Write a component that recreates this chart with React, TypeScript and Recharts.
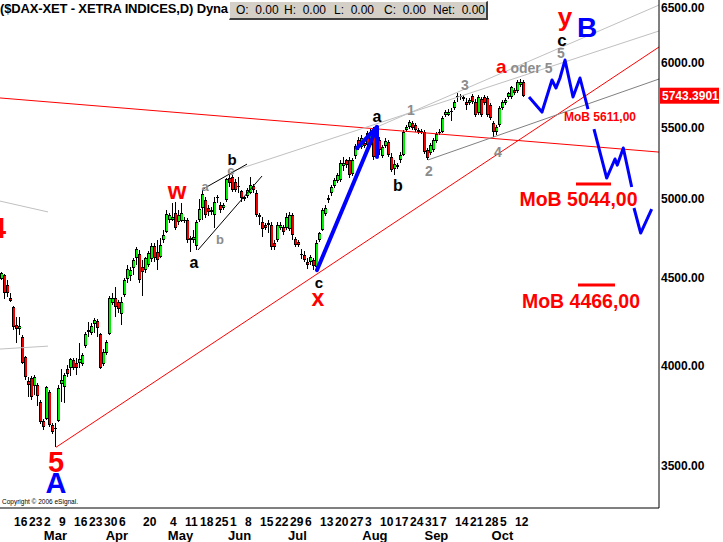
import {
  Bar,
  ComposedChart,
  Line,
  ReferenceDot,
  ReferenceLine,
  XAxis,
  YAxis,
} from 'recharts'

// daily candles, first one sits 4 sessions before Feb 16
const firstIndex = -4

const opens = [
  4494, 4518, 4458, 4383, 4330, 4225, 4203, 4159, 4048, 3921,
  3937, 3895, 3900, 3812, 3717, 3727, 3864, 3697, 3678, 3717,
  3905, 3890, 3985, 3991, 4031, 4015, 4015, 4009, 4109, 4187,
  4182, 4231, 4248, 4176, 4009, 4070, 4176, 4354, 4383, 4359,
  4289, 4398, 4494, 4512, 4561, 4621, 4646, 4567, 4549, 4580,
  4615, 4696, 4659, 4627, 4735, 4784, 4863, 4863, 4909, 4850,
  4857, 4863, 4863, 4748, 4735, 4696, 4863, 4943, 4993, 4943,
  4916, 4896, 5007, 4963, 4943, 4993, 5145, 5152, 5117, 5082,
  5055, 5014, 5021, 5041, 5089, 5041, 4896, 4850, 4830, 4843,
  4830, 4715, 4735, 4810, 4817, 4810, 4804, 4896, 4741, 4722,
  4646, 4639, 4595, 4595, 4608, 4567, 4735, 4797, 4902, 4993,
  5041, 5089, 5124, 5131, 5226, 5269, 5269, 5173, 5298, 5411,
  5363, 5389, 5463, 5374, 5448, 5418, 5411, 5298, 5370, 5396,
  5290, 5205, 5233, 5269, 5305, 5485, 5507, 5537, 5522, 5485,
  5478, 5470, 5341, 5319, 5341, 5404, 5463, 5470, 5595, 5595,
  5618, 5648, 5733, 5741, 5733, 5694, 5687, 5741, 5694, 5610,
  5718, 5733, 5726, 5671, 5537, 5470, 5522, 5648, 5687, 5733,
  5733, 5786, 5778, 5826, 5849,
]

const highs = [
  4536, 4524, 4488, 4409, 4336, 4271, 4271, 4170, 4053, 3943,
  3948, 3953, 3911, 3822, 3727, 3895, 3874, 3707, 3707, 3900,
  3985, 3965, 4004, 4042, 4042, 4042, 4125, 4070, 4187, 4242,
  4237, 4266, 4260, 4182, 4092, 4142, 4392, 4409, 4446, 4371,
  4389, 4500, 4580, 4567, 4621, 4690, 4671, 4608, 4627, 4665,
  4715, 4715, 4735, 4748, 4797, 4929, 4912, 4976, 4980, 4929,
  4976, 4883, 4876, 4761, 4797, 4863, 5000, 5062, 5014, 4963,
  4950, 5014, 5028, 4980, 4976, 5145, 5177, 5166, 5138, 5152,
  5062, 5021, 5076, 5152, 5103, 5062, 4909, 4883, 4842, 4863,
  4850, 4735, 4850, 4850, 4830, 4909, 4916, 4909, 4754, 4735,
  4677, 4665, 4621, 4639, 4621, 4735, 4784, 4943, 4963, 5028,
  5096, 5145, 5177, 5269, 5290, 5276, 5290, 5283, 5383, 5433,
  5448, 5411, 5478, 5493, 5507, 5448, 5433, 5374, 5426, 5411,
  5319, 5269, 5246, 5327, 5485, 5522, 5560, 5552, 5537, 5500,
  5493, 5485, 5356, 5389, 5426, 5470, 5493, 5587, 5633, 5640,
  5648, 5710, 5765, 5757, 5749, 5726, 5726, 5757, 5718, 5749,
  5733, 5749, 5741, 5687, 5552, 5522, 5663, 5710, 5726, 5771,
  5818, 5802, 5865, 5873, 5865,
]

const lows = [
  4488, 4377, 4389, 4359, 4197, 4125, 4170, 4009, 3927, 3838,
  3822, 3848, 3793, 3702, 3673, 3722, 3688, 3653, 3588, 3712,
  3812, 3807, 3943, 3948, 3980, 3953, 3991, 3998, 4097, 4159,
  4170, 4182, 4159, 3985, 3998, 4059, 4170, 4341, 4271, 4295,
  4225, 4389, 4470, 4482, 4518, 4580, 4470, 4392, 4530, 4567,
  4595, 4595, 4549, 4621, 4715, 4780, 4842, 4857, 4797, 4830,
  4850, 4842, 4715, 4659, 4715, 4671, 4850, 4863, 4876, 4889,
  4896, 4810, 4976, 4909, 4929, 4980, 5083, 5048, 5048, 5041,
  4980, 4987, 5007, 5035, 5041, 4883, 4830, 4754, 4797, 4780,
  4671, 4671, 4722, 4797, 4767, 4797, 4791, 4735, 4690, 4690,
  4615, 4595, 4555, 4580, 4549, 4549, 4722, 4791, 4889, 4976,
  5021, 5076, 5110, 5117, 5191, 5212, 5145, 5159, 5276, 5341,
  5348, 5356, 5363, 5363, 5269, 5370, 5305, 5283, 5356, 5290,
  5184, 5166, 5205, 5248, 5298, 5470, 5493, 5485, 5470, 5455,
  5455, 5312, 5269, 5305, 5327, 5389, 5448, 5463, 5580, 5587,
  5552, 5633, 5694, 5710, 5702, 5633, 5671, 5679, 5580, 5595,
  5580, 5671, 5580, 5560, 5433, 5448, 5507, 5633, 5671, 5718,
  5718, 5749, 5765, 5808, 5735,
]

const closes = [
  4530, 4409, 4409, 4365, 4214, 4203, 4220, 4015, 3943, 3900,
  3838, 3943, 3843, 3712, 3688, 3890, 3697, 3663, 3683, 3885,
  3925, 3953, 3958, 4037, 3991, 3991, 4037, 4059, 4176, 4197,
  4220, 4254, 4208, 3991, 4075, 4131, 4383, 4383, 4330, 4318,
  4359, 4488, 4555, 4549, 4608, 4677, 4488, 4536, 4621, 4652,
  4696, 4621, 4608, 4703, 4767, 4902, 4896, 4883, 4810, 4896,
  4909, 4857, 4735, 4735, 4754, 4850, 4936, 5035, 4896, 4916,
  4929, 4980, 5014, 4929, 4963, 5138, 5110, 5062, 5062, 5089,
  5007, 5000, 5062, 5096, 5062, 4896, 4883, 4804, 4810, 4830,
  4690, 4690, 4830, 4830, 4784, 4883, 4896, 4767, 4703, 4703,
  4639, 4608, 4580, 4627, 4574, 4715, 4780, 4929, 4943, 5007,
  5082, 5131, 5166, 5246, 5246, 5233, 5166, 5269, 5370, 5363,
  5426, 5370, 5374, 5470, 5290, 5389, 5341, 5363, 5404, 5305,
  5198, 5240, 5219, 5305, 5470, 5507, 5545, 5500, 5485, 5470,
  5470, 5327, 5283, 5374, 5411, 5455, 5470, 5572, 5618, 5618,
  5625, 5694, 5741, 5733, 5718, 5671, 5710, 5694, 5595, 5733,
  5595, 5687, 5595, 5575, 5470, 5507, 5648, 5694, 5710, 5765,
  5808, 5765, 5849, 5849, 5743.39,
]

const lastPrice = 5743.3901

// session index of each weekly Monday label (Feb 16 = 0)
const weekTicks = [
  0, 5, 10, 15, 20, 25, 30, 35, 43, 52, 57, 62, 67, 72, 77, 82, 87,
  92, 97, 102, 107, 112, 117, 122, 127, 132, 137, 142, 147, 152, 157, 162, 167,
]
const weekLabels = [
  '16', '23', '2', '9', '16', '23', '30', '6', '20', '4', '11', '18', '25', '1', '8', '15', '22',
  '29', '6', '13', '20', '27', '3', '10', '17', '24', '31', '7', '14', '21', '28', '5', '12',
]
const monthTicks = [13.8, 34.3, 55.5, 75.2, 94.5, 120.3, 140.8, 162.8]
const monthLabels = ['Mar', 'Apr', 'May', 'Jun', 'Jul', 'Aug', 'Sep', 'Oct']
const priceTicks = [3500, 4000, 4500, 5000, 5500, 6000, 6500]

// trend lines: [index1, price1, index2, price2]
const redLines = [
  [14, 3588, 215, 6130],
  [-4.67, 5726, 215, 5326],
]
const lightGrayLines = [
  [72, 5186, 215, 6263],
  [121, 5508, 215, 6484],
  [-4.67, 4988, 11.33, 4916],
  [-4.67, 4092, 11.33, 4108],
]
const darkGrayLines = [[138, 5270, 215, 5873]]
const blackLines = [
  [61.33, 4672, 82.67, 5158],
  [63, 5069, 77.67, 5241],
]
// MoB target bars: [from, to, price]
const mobBars = [
  [187.33, 199, 5103],
  [188, 200.33, 4458],
]

// blue wave paths: [index, price]
const waveCA = [[101, 4548], [121, 5508]]
const waveHead = [[114.33, 5355], [121, 5508], [121, 5291]]
const projection1 = [
  [171.67, 5733], [176, 5619], [179.33, 5865], [180.67, 5803], [182, 5881],
  [183.67, 6024], [186.33, 5733], [188.67, 5881], [191.33, 5642],
]
const projection2 = [
  [193.33, 5493], [197.56, 5144], [200.33, 5277], [201.1, 5234], [203.1, 5355], [205.9, 5083],
]
const projection3 = [[206.67, 4942], [208.89, 4779], [212.56, 4935]]

const RED = '#ff0000'
const BLUE = '#0000ff'
const GRAY = '#8c8c8c'
const BLACK = '#000000'

// wave labels: [index, price, text, colour, font size]
const waveLabels: [number, number, string, string, number][] = [
  [14, 3518, '5', RED, 29],
  [14, 3420, 'A', BLUE, 29],
  [-5.33, 4811, '4', RED, 29],
  [-6, 4697, 'c', BLACK, 15],
  [54.33, 5056, 'w', RED, 24],
  [63.67, 5089, 'a', GRAY, 13],
  [72.33, 5195, 'c', GRAY, 13],
  [72.67, 5276, 'b', BLACK, 15],
  [68.67, 4741, 'b', GRAY, 13],
  [60, 4597, 'a', BLACK, 16],
  [121, 5582, 'a', BLACK, 16],
  [128, 5096, 'b', BLACK, 16],
  [101.67, 4474, 'c', BLACK, 15],
  [101.33, 4381, 'x', RED, 23],
  [132.33, 5634, '1', GRAY, 14],
  [138.33, 5193, '2', GRAY, 14],
  [150.33, 5826, '3', GRAY, 14],
  [161.33, 5326, '4', GRAY, 14],
  [182.33, 6081, '5', GRAY, 14],
  [182.67, 6187, 'c', BLACK, 17],
  [183.67, 6381, 'y', RED, 26],
  [191, 6296, 'B', BLUE, 28],
  [195.33, 5582, 'MoB 5611,00', RED, 12],
  [188.17, 5002, 'MoB 5044,00', RED, 19.5],
  [189, 4364, 'MoB 4466,00', RED, 19.5],
]

const sans = "'Liberation Sans', Arial, sans-serif"
const narrow = "'Liberation Sans Narrow', 'Liberation Sans', Arial, sans-serif"

const candleData = opens.map((open, k) => ({
  i: k + firstIndex,
  open,
  high: highs[k],
  low: lows[k],
  close: closes[k],
  range: [lows[k], highs[k]],
}))

const toPoints = (rows: number[][]) => rows.map(([i, p]) => ({ i, p }))

function Candle(props: any) {
  const { x, y, width, height, payload } = props
  if (x == null || y == null || height == null) return null
  const top = Math.min(y, y + height)
  const bottom = Math.max(y, y + height)
  const span = Math.log(payload.high / payload.low) || 1
  const at = (v: number) => top + ((bottom - top) * Math.log(payload.high / v)) / span
  const bodyTop = at(Math.max(payload.open, payload.close))
  const bodyBottom = at(Math.min(payload.open, payload.close))
  const px = Math.floor(x + width / 2)
  const up = payload.close >= payload.open
  const bodyH = Math.max(1, bodyBottom - bodyTop)
  return (
    <g shapeRendering="crispEdges">
      <line x1={px + 0.5} x2={px + 0.5} y1={top} y2={bottom} stroke={BLACK} strokeWidth={1} />
      <rect x={px - 1} y={bodyTop} width={3} height={bodyH} fill={BLACK} />
      {bodyH > 2 && (
        <rect
          x={px}
          y={bodyTop + 1}
          width={2}
          height={bodyH - 2}
          fill={up ? '#00ee00' : '#ee0000'}
        />
      )}
    </g>
  )
}

function DayTick(props: any) {
  const { x, y, payload } = props
  const k = weekTicks.indexOf(payload.value)
  return (
    <text x={x} y={y + 18} textAnchor="start" fontFamily={narrow} fontWeight="bold" fontSize={12} fill={BLACK}>
      {weekLabels[k]}
    </text>
  )
}

function MonthTick(props: any) {
  const { x, y, payload } = props
  const k = monthTicks.indexOf(payload.value)
  return (
    <text x={x} y={y + 15} textAnchor="middle" fontFamily={narrow} fontWeight="bold" fontSize={13} fill={BLACK}>
      {monthLabels[k]}
    </text>
  )
}

function PriceTick(props: any) {
  const { x, y, payload } = props
  return (
    <text
      x={x}
      y={Math.max(y, 8)}
      textAnchor="start"
      dominantBaseline="central"
      fontFamily={sans}
      fontWeight="bold"
      fontSize={12}
      fill={BLACK}
    >
      {Number(payload.value).toFixed(2)}
    </text>
  )
}

const segment = (r: number[]) => [
  { x: r[0], y: r[1] },
  { x: r[2], y: r[3] },
]

export default function App() {
  return (
    <div style={{ position: 'absolute', left: 0, top: 0, width: 723, height: 542, background: '#fff' }}>
      <ComposedChart
        width={723}
        height={542}
        data={candleData}
        margin={{ top: 0, right: 0, bottom: 0, left: 0 }}
      >
        <XAxis
          dataKey="i"
          type="number"
          domain={[-14 / 3, 215]}
          allowDataOverflow
          ticks={weekTicks}
          interval={0}
          tick={<DayTick />}
          tickLine={false}
          tickSize={0}
          tickMargin={0}
          axisLine={{ stroke: BLACK }}
          height={17}
        />
        <XAxis
          xAxisId="m"
          dataKey="i"
          type="number"
          domain={[-14 / 3, 215]}
          allowDataOverflow
          ticks={monthTicks}
          interval={0}
          tick={<MonthTick />}
          tickLine={false}
          tickSize={0}
          tickMargin={0}
          axisLine={false}
          height={17}
        />
        <YAxis
          orientation="right"
          scale="log"
          domain={[3308, 6528]}
          allowDataOverflow
          ticks={priceTicks}
          interval={0}
          tick={<PriceTick />}
          tickLine={false}
          tickSize={0}
          tickMargin={2}
          axisLine={{ stroke: BLACK }}
          width={64}
        />

        {redLines.map((r, k) => (
          <ReferenceLine key={'r' + k} segment={segment(r)} stroke={RED} strokeWidth={1} ifOverflow="hidden" />
        ))}
        {lightGrayLines.map((r, k) => (
          <ReferenceLine key={'g' + k} segment={segment(r)} stroke="#c0c0c0" strokeWidth={1} ifOverflow="hidden" />
        ))}
        {darkGrayLines.map((r, k) => (
          <ReferenceLine key={'d' + k} segment={segment(r)} stroke="#808080" strokeWidth={1} ifOverflow="hidden" />
        ))}
        {blackLines.map((r, k) => (
          <ReferenceLine key={'b' + k} segment={segment(r)} stroke={BLACK} strokeWidth={1} ifOverflow="hidden" />
        ))}
        {mobBars.map((r, k) => (
          <ReferenceLine
            key={'m' + k}
            segment={[
              { x: r[0], y: r[2] },
              { x: r[1], y: r[2] },
            ]}
            stroke={RED}
            strokeWidth={3}
            ifOverflow="hidden"
          />
        ))}

        <Bar dataKey="range" barSize={3} shape={<Candle />} isAnimationActive={false} />

        {[waveCA, waveHead].map((w, k) => (
          <Line
            key={'w' + k}
            data={toPoints(w)}
            dataKey="p"
            type="linear"
            stroke={BLUE}
            strokeWidth={4}
            strokeLinejoin="round"
            strokeLinecap="round"
            dot={false}
            activeDot={false}
            isAnimationActive={false}
          />
        ))}
        {[projection1, projection2, projection3].map((w, k) => (
          <Line
            key={'p' + k}
            data={toPoints(w)}
            dataKey="p"
            type="linear"
            stroke={BLUE}
            strokeWidth={3}
            strokeLinejoin="round"
            dot={false}
            activeDot={false}
            isAnimationActive={false}
          />
        ))}

        {waveLabels.map(([i, p, text, color, size], k) => (
          <ReferenceDot
            key={'t' + k}
            x={i}
            y={p}
            r={0}
            ifOverflow="visible"
            shape={(s: any) => (
              <text
                x={s.cx}
                y={s.cy}
                textAnchor="middle"
                dominantBaseline="central"
                fontFamily={sans}
                fontWeight="bold"
                fontSize={size}
                fill={color}
              >
                {text}
              </text>
            )}
          />
        ))}
        <ReferenceDot
          x={160.67}
          y={5920}
          r={0}
          ifOverflow="visible"
          shape={(s: any) => (
            <text x={s.cx} y={s.cy} textAnchor="start" fontFamily={sans} fontWeight="bold">
              <tspan fill={RED} fontSize={19}>a</tspan>
              <tspan fill={GRAY} fontSize={14}> oder 5</tspan>
            </text>
          )}
        />
        <ReferenceDot
          x={215}
          y={lastPrice}
          r={0}
          ifOverflow="visible"
          shape={(s: any) => (
            <g>
              <rect x={s.cx + 1} y={s.cy - 8} width={59} height={16} fill={RED} />
              <text
                x={s.cx + 3}
                y={s.cy}
                dominantBaseline="central"
                fontFamily={sans}
                fontWeight="bold"
                fontSize={12}
                fill="#ffffff"
              >
                {lastPrice.toFixed(4)}
              </text>
            </g>
          )}
        />
      </ComposedChart>

      <div
        style={{
          position: 'absolute',
          left: 0,
          top: 1,
          font: `bold 13px ${sans}`,
          letterSpacing: '-0.15px',
          lineHeight: '16px',
          whiteSpace: 'nowrap',
          color: BLACK,
        }}
      >
        ($DAX-XET - XETRA INDICES,D) Dyna
      </div>
      <div
        style={{
          position: 'absolute',
          left: 229,
          top: 1,
          width: 256,
          height: 16,
          background: '#d4d0c8',
          borderTop: '1px solid #ffffff',
          borderLeft: '1px solid #ffffff',
          borderRight: '2px solid #404040',
          borderBottom: '2px solid #404040',
          font: `12px ${sans}`,
          lineHeight: '16px',
          color: BLACK,
        }}
      >
        <span style={{ position: 'absolute', left: 6 }}>O:&nbsp; 0.00</span>
        <span style={{ position: 'absolute', left: 54 }}>H:&nbsp; 0.00</span>
        <span style={{ position: 'absolute', left: 104 }}>L:&nbsp; 0.00</span>
        <span style={{ position: 'absolute', left: 154 }}>C:&nbsp; 0.00</span>
        <span style={{ position: 'absolute', left: 203 }}>Net:&nbsp; 0.00</span>
      </div>
      <div
        style={{
          position: 'absolute',
          left: 2,
          top: 498,
          font: `6.5px ${sans}`,
          whiteSpace: 'nowrap',
          color: BLACK,
        }}
      >
        Copyright © 2006 eSignal.
      </div>
    </div>
  )
}
